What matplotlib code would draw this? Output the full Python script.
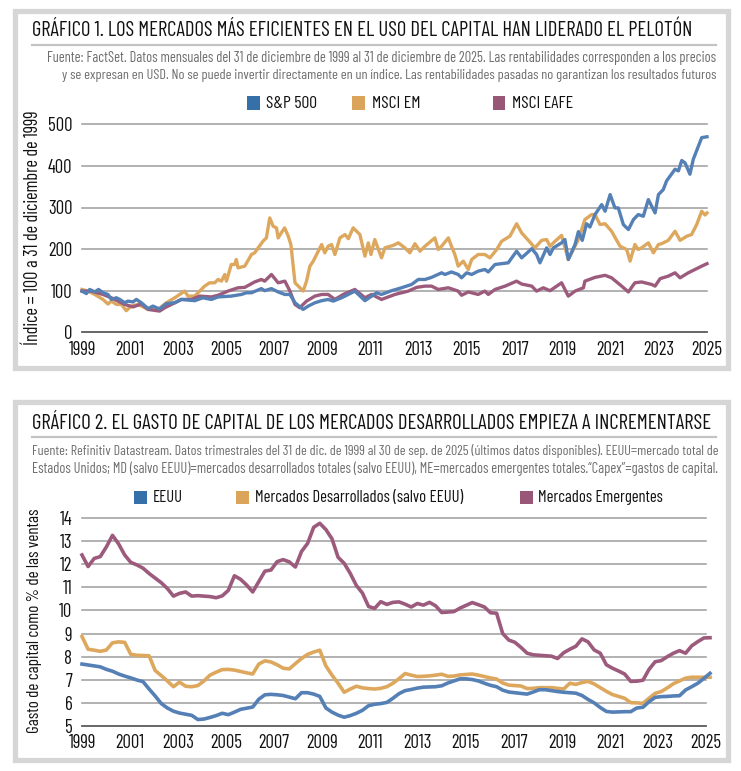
import matplotlib
matplotlib.use("Agg")
import matplotlib.pyplot as plt
from matplotlib.patches import Rectangle
from matplotlib import font_manager
import numpy as np

# ---------------- DATA: chart 1 (index, 31 Dec 1999 = 100) ----------------
dates_sp = [1999.00, 1999.18, 1999.32, 1999.53, 1999.69, 1999.87, 2000.08, 2000.22, 2000.43, 2000.57,
            2000.78, 2000.91, 2001.12, 2001.26, 2001.47, 2001.75, 2001.95, 2002.23, 2002.51, 2002.86,
            2003.13, 2003.69, 2004.03, 2004.38, 2004.66, 2005.21, 2005.63, 2005.84, 2006.05, 2006.46,
            2006.60, 2006.88, 2007.16, 2007.44, 2007.65, 2007.86, 2008.20, 2008.41, 2008.69, 2008.97,
            2009.24, 2009.45, 2009.80, 2010.35, 2010.77, 2011.05, 2011.25, 2011.46, 2011.88, 2012.29,
            2012.71, 2012.99, 2013.27, 2013.54, 2013.96, 2014.10, 2014.37, 2014.65, 2014.79, 2015.00,
            2015.21, 2015.48, 2015.76, 2015.90, 2016.18, 2016.73, 2017.08, 2017.29, 2017.71, 2017.91,
            2018.05, 2018.33, 2018.47, 2018.61, 2018.95, 2019.09, 2019.23, 2019.51, 2019.65, 2019.81,
            2019.99, 2020.13, 2020.34, 2020.62, 2020.76, 2020.97, 2021.17, 2021.31, 2021.52, 2021.73,
            2021.94, 2022.14, 2022.35, 2022.56, 2022.70, 2022.84, 2022.98, 2023.18, 2023.32, 2023.67,
            2023.81, 2023.95, 2024.09, 2024.29, 2024.43, 2024.78, 2025.00]
sp500 = [99, 93, 103, 97, 103, 95, 91, 79, 83, 79,
         71, 75, 73, 79, 71, 57, 63, 56, 69, 71,
         79, 76, 83, 79, 85, 87, 91, 95, 95, 105,
         100, 105, 97, 91, 91, 71, 55, 63, 71, 76,
         79, 75, 83, 99, 76, 87, 95, 91, 100, 107,
         115, 127, 127, 132, 143, 139, 145, 139, 131, 143,
         139, 147, 151, 145, 163, 167, 195, 179, 201, 187,
         167, 203, 187, 203, 215, 223, 175, 211, 242, 221,
         261, 253, 283, 307, 291, 331, 299, 299, 259, 247,
         271, 283, 279, 319, 303, 287, 331, 343, 364, 392,
         388, 413, 407, 380, 416, 468, 470]

dates_em = [1999.00, 1999.25, 1999.53, 1999.87, 2000.08, 2000.22, 2000.43, 2000.64, 2000.84, 2001.05,
            2001.33, 2001.75, 2002.16, 2002.51, 2002.86, 2003.27, 2003.41, 2003.69, 2004.10, 2004.31,
            2004.52, 2004.66, 2004.80, 2004.94, 2005.01, 2005.21, 2005.35, 2005.42, 2005.49, 2005.77,
            2006.05, 2006.18, 2006.53, 2006.67, 2006.81, 2006.95, 2007.09, 2007.16, 2007.29, 2007.43,
            2007.58, 2007.69, 2007.86, 2008.00, 2008.20, 2008.34, 2008.48, 2008.62, 2008.76, 2008.97,
            2009.10, 2009.24, 2009.38, 2009.52, 2009.73, 2009.94, 2010.08, 2010.28, 2010.56, 2010.77,
            2010.91, 2011.02, 2011.18, 2011.46, 2011.60, 2011.95, 2012.16, 2012.43, 2012.64, 2012.85,
            2013.06, 2013.27, 2013.68, 2013.82, 2013.96, 2014.24, 2014.37, 2014.51, 2014.65, 2014.86,
            2015.07, 2015.21, 2015.48, 2015.76, 2015.97, 2016.25, 2016.46, 2016.80, 2017.08, 2017.29,
            2017.57, 2017.84, 2018.12, 2018.33, 2018.47, 2018.68, 2018.95, 2019.23, 2019.44, 2019.65,
            2019.92, 2020.20, 2020.34, 2020.55, 2020.76, 2021.03, 2021.38, 2021.66, 2021.80, 2022.00,
            2022.14, 2022.28, 2022.56, 2022.77, 2022.98, 2023.11, 2023.39, 2023.67, 2023.88, 2024.16,
            2024.36, 2024.57, 2024.78, 2024.92, 2025.00]
msci_em = [103, 99, 91, 79, 68, 75, 67, 67, 52, 63,
           67, 55, 55, 71, 83, 99, 87, 87, 111, 119,
           119, 127, 123, 139, 123, 163, 163, 175, 155, 159,
           187, 191, 219, 227, 275, 255, 251, 227, 239, 251,
           231, 211, 119, 111, 99, 123, 159, 171, 187, 211,
           191, 207, 211, 187, 227, 235, 225, 251, 235, 183,
           215, 187, 223, 179, 203, 209, 215, 203, 191, 213,
           195, 207, 227, 199, 207, 227, 207, 187, 159, 171,
           151, 175, 187, 187, 179, 199, 219, 231, 261, 239,
           221, 203, 221, 223, 207, 219, 233, 175, 199, 223,
           271, 283, 283, 259, 261, 243, 207, 199, 171, 211,
           199, 203, 215, 191, 211, 213, 221, 243, 221, 231,
           235, 259, 291, 282, 287]

dates_eafe = [1999.00, 1999.39, 1999.87, 2000.22, 2000.78, 2001.12, 2001.47, 2001.75, 2002.23, 2002.44,
              2002.86, 2003.13, 2003.55, 2003.90, 2004.38, 2004.66, 2005.07, 2005.49, 2005.77, 2006.18,
              2006.46, 2006.60, 2006.88, 2007.16, 2007.44, 2007.65, 2007.86, 2008.06, 2008.34, 2008.69,
              2008.97, 2009.24, 2009.52, 2009.87, 2010.35, 2010.77, 2011.05, 2011.46, 2012.02, 2012.57,
              2012.92, 2013.27, 2013.54, 2013.82, 2014.24, 2014.65, 2014.79, 2015.07, 2015.48, 2015.76,
              2015.90, 2016.18, 2016.60, 2017.08, 2017.29, 2017.71, 2017.91, 2018.19, 2018.47, 2018.95,
              2019.23, 2019.51, 2019.86, 2019.92, 2020.34, 2020.76, 2021.03, 2021.45, 2021.73, 2022.00,
              2022.28, 2022.70, 2022.84, 2023.05, 2023.39, 2023.67, 2023.88, 2024.22, 2024.50, 2024.78,
              2025.00]
msci_eafe = [99, 99, 91, 83, 67, 61, 68, 55, 51, 59,
             71, 79, 79, 87, 85, 89, 99, 107, 108, 121,
             127, 123, 139, 119, 123, 99, 67, 59, 75, 87,
             91, 91, 79, 91, 103, 83, 91, 79, 91, 99,
             108, 111, 111, 103, 107, 99, 89, 97, 91, 99,
             91, 103, 111, 123, 116, 111, 99, 107, 100, 119,
             87, 99, 107, 123, 132, 137, 131, 111, 97, 119,
             121, 115, 111, 129, 135, 143, 131, 143, 151, 159,
             165]

years_ticks = list(range(1999, 2026, 2))
idx_ticks = [0, 100, 200, 300, 400, 500]

# ---------------- DATA: chart 2 (capex % of sales, quarterly Dec 1999 - Sep 2025) ----------------
capex_us = [7.68, 7.64, 7.60, 7.56, 7.45, 7.37, 7.25, 7.16, 7.08, 6.99,
            6.92, 6.60, 6.30, 5.97, 5.78, 5.64, 5.56, 5.51, 5.46, 5.28,
            5.30, 5.37, 5.45, 5.55, 5.49, 5.60, 5.72, 5.77, 5.82, 6.16,
            6.35, 6.37, 6.35, 6.32, 6.25, 6.18, 6.44, 6.44, 6.38, 6.28,
            5.78, 5.60, 5.47, 5.38, 5.45, 5.55, 5.68, 5.88, 5.94, 5.97,
            6.02, 6.20, 6.40, 6.53, 6.58, 6.64, 6.68, 6.69, 6.70, 6.74,
            6.86, 6.95, 7.04, 7.04, 7.01, 6.95, 6.85, 6.76, 6.70, 6.55,
            6.47, 6.44, 6.41, 6.38, 6.47, 6.57, 6.57, 6.53, 6.49, 6.46,
            6.44, 6.42, 6.32, 6.15, 6.00, 5.80, 5.63, 5.60, 5.61, 5.62,
            5.62, 5.78, 5.81, 6.05, 6.24, 6.27, 6.28, 6.30, 6.31, 6.56,
            6.70, 6.85, 7.06, 7.28]
capex_dm = [8.87, 8.32, 8.28, 8.23, 8.29, 8.60, 8.64, 8.62, 8.10, 8.06,
            8.05, 8.04, 7.40, 7.18, 6.95, 6.70, 6.90, 6.72, 6.70, 6.75,
            6.95, 7.20, 7.33, 7.44, 7.45, 7.42, 7.36, 7.30, 7.25, 7.68,
            7.82, 7.77, 7.65, 7.50, 7.47, 7.70, 7.92, 8.10, 8.20, 8.28,
            7.60, 7.20, 6.85, 6.46, 6.60, 6.72, 6.65, 6.62, 6.60, 6.63,
            6.70, 6.85, 7.05, 7.27, 7.20, 7.14, 7.15, 7.17, 7.20, 7.24,
            7.15, 7.16, 7.21, 7.23, 7.25, 7.20, 7.14, 7.08, 7.03, 6.86,
            6.77, 6.75, 6.73, 6.62, 6.63, 6.66, 6.66, 6.66, 6.63, 6.60,
            6.85, 6.80, 6.88, 6.93, 6.82, 6.66, 6.50, 6.36, 6.28, 6.20,
            6.01, 6.00, 5.98, 6.20, 6.41, 6.49, 6.65, 6.83, 6.95, 7.07,
            7.11, 7.11, 7.11, 7.11]
capex_em = [12.40, 11.90, 12.25, 12.33, 12.75, 13.25, 12.88, 12.40, 12.08, 11.97,
            11.83, 11.60, 11.40, 11.20, 10.95, 10.62, 10.74, 10.80, 10.62, 10.64,
            10.62, 10.60, 10.55, 10.63, 10.87, 11.50, 11.35, 11.10, 10.80, 11.25,
            11.70, 11.75, 12.11, 12.20, 12.10, 11.88, 12.55, 12.90, 13.60, 13.77,
            13.50, 13.10, 12.30, 12.04, 11.60, 11.08, 10.75, 10.17, 10.09, 10.38,
            10.26, 10.35, 10.37, 10.27, 10.15, 10.30, 10.23, 10.35, 10.20, 9.91,
            9.93, 9.95, 10.10, 10.22, 10.34, 10.25, 10.15, 9.90, 9.88, 9.00,
            8.72, 8.62, 8.40, 8.15, 8.08, 8.06, 8.04, 8.02, 7.92, 8.17,
            8.32, 8.45, 8.77, 8.64, 8.29, 8.15, 7.65, 7.50, 7.38, 7.25,
            6.93, 6.94, 6.98, 7.45, 7.78, 7.83, 8.00, 8.15, 8.26, 8.15,
            8.47, 8.65, 8.81, 8.82]
capex_ticks = list(range(5, 15))

# ---------------- STYLE ----------------
W, H = 741, 771
avail = {f.name for f in font_manager.fontManager.ttflist}
NARROW = 'Liberation Sans'
for cand in ['Barlow Condensed', 'Sofia Sans Condensed', 'Roboto Condensed', 'Archivo Narrow',
             'PT Sans Narrow', 'Liberation Sans Narrow']:
    if cand in avail:
        NARROW = cand
        break
plt.rcParams['font.family'] = [NARROW, 'DejaVu Sans']

C_BLUE, C_GOLD, C_PURP = '#5580b6', '#dda85e', '#9c5b7c'
C_BLUE_SQ, C_GOLD_SQ, C_PURP_SQ = '#3570a8', '#dba45b', '#985777'
GRID = '#9c9c9c'
BASE = '#5a5a5a'
SRC = '#6e6e6e'
INK = '#111111'
TICK_SIZE = 13.5

fig = plt.figure(figsize=(W / 100, H / 100), dpi=100)
fig.patch.set_facecolor('white')

fit_jobs = []   # (text artist, target extent in px, 'w' or 'h')


def fx(x):
    return x / W


def fy(y):
    return 1 - y / H


def axes_px(x0, x1, ytop, ybot):
    return fig.add_axes([fx(x0), fy(ybot), (x1 - x0) / W, (ybot - ytop) / H])


# panel borders
for (x0, y0, x1, y1) in [(14.5, 11, 728, 368), (14.5, 402, 728, 760)]:
    fig.patches.append(Rectangle((fx(x0), fy(y1)), (x1 - x0) / W, (y1 - y0) / H,
                                 transform=fig.transFigure, fill=False,
                                 edgecolor='#d6d6d6', linewidth=3.8))


def header(title, title_w, ty, sep_y, src_lines, src_ws, src_ys, src_ha, src_x):
    t = fig.text(fx(32), fy(ty), title, fontsize=13.5, color=INK, va='center', ha='left')
    fit_jobs.append((t, title_w, 'w'))
    fig.add_artist(plt.Line2D([fx(32), fx(716)], [fy(sep_y), fy(sep_y)],
                              transform=fig.transFigure, color='#c4c4c4', linewidth=1.6))
    for line, w, yy in zip(src_lines, src_ws, src_ys):
        s = fig.text(fx(src_x), fy(yy), line, fontsize=9.2, color=SRC, va='center', ha=src_ha)
        fit_jobs.append((s, w, 'w'))


def legend(items, ly):
    texts = []
    for (sx, tx, col, lab) in items:
        fig.patches.append(Rectangle((fx(sx), fy(ly + 6.5)), 12.5 / W, 13 / H,
                                     transform=fig.transFigure, facecolor=col, edgecolor='none'))
        texts.append(fig.text(fx(tx), fy(ly), lab, fontsize=11, color=INK, va='center', ha='left'))
    return texts


# ---------------- CHART 1 ----------------
header("GRÁFICO 1. LOS MERCADOS MÁS EFICIENTES EN EL USO DEL CAPITAL HAN LIDERADO EL PELOTÓN", 661,
       30, 45,
       ["Fuente: FactSet. Datos mensuales del 31 de diciembre de 1999 al 31 de diciembre de 2025. Las rentabilidades corresponden a los precios",
        "y se expresan en USD. No se puede invertir directamente en un índice. Las rentabilidades pasadas no garantizan los resultados futuros"],
       [666, 654], [58, 76], 'right', 716)
leg1 = legend([(247, 266, C_BLUE_SQ, 'S&P 500'), (352, 372, C_GOLD_SQ, 'MSCI EM'),
               (493, 512, C_PURP_SQ, 'MSCI EAFE')], 103)

ax1 = axes_px(82, 707, 124.3, 332.3)
ax1.set_xlim(1999, 2025)
ax1.set_ylim(0, 500)
for v in idx_ticks[1:]:
    ax1.axhline(v, color=GRID, linewidth=1.1, clip_on=False, zorder=1)
ax1.axhline(0, color=BASE, linewidth=1.3, clip_on=False, zorder=1)
ax1.plot(dates_em, msci_em, color=C_GOLD, linewidth=2.4, clip_on=False, zorder=3)
ax1.plot(dates_eafe, msci_eafe, color=C_PURP, linewidth=2.4, clip_on=False, zorder=4)
ax1.plot(dates_sp, sp500, color=C_BLUE, linewidth=2.4, clip_on=False, zorder=5)
ax1.set_xticks(years_ticks)
ax1.set_xticklabels([str(y) for y in years_ticks])
ax1.set_yticks(idx_ticks)
ax1.tick_params(axis='x', pad=6.5)
ax1.tick_params(axis='y', pad=7.0)
ylab1 = fig.text(fx(33), fy(228), "Índice = 100 a 31 de diciembre de 1999", rotation=90,
                 fontsize=12.5, color=INK, va='center', ha='center')
fit_jobs.append((ylab1, 235, 'h'))

# ---------------- CHART 2 ----------------
header("GRÁFICO 2. EL GASTO DE CAPITAL DE LOS MERCADOS DESARROLLADOS EMPIEZA A INCREMENTARSE", 680,
       423, 437,
       ["Fuente: Refinitiv Datastream. Datos trimestrales del 31 de dic. de 1999 al 30 de sep. de 2025 (últimos datos disponibles). EEUU=mercado total de",
        "Estados Unidos; MD (salvo EEUU)=mercados desarrollados totales (salvo EEUU), ME=mercados emergentes totales.\u201cCapex\u201d=gastos de capital."],
       [684, 684], [451, 469], 'left', 32)
leg2 = legend([(134, 153, C_BLUE_SQ, 'EEUU'), (236, 255, C_GOLD_SQ, 'Mercados Desarrollados (salvo EEUU)'),
               (520, 538, C_PURP_SQ, 'Mercados Emergentes')], 497)

ax2 = axes_px(82, 706, 518, 726)
ax2.set_xlim(1999, 2025)
ax2.set_ylim(5, 14)
q_step = (710 - 82) / 103 / 24.0  # quarter spacing on the label scale
xq = 1999 + np.arange(len(capex_us)) * q_step
for v in capex_ticks[1:]:
    ax2.axhline(v, color=GRID, linewidth=1.1, clip_on=False, zorder=1)
ax2.axhline(5, color=BASE, linewidth=1.3, clip_on=False, zorder=1)
ax2.plot(xq, capex_em, color=C_PURP, linewidth=2.6, clip_on=False, zorder=3)
ax2.plot(xq, capex_dm, color=C_GOLD, linewidth=2.6, clip_on=False, zorder=4)
ax2.plot(xq, capex_us, color=C_BLUE, linewidth=2.6, clip_on=False, zorder=5)
ax2.set_xticks(years_ticks)
ax2.set_xticklabels([str(y) for y in years_ticks])
ax2.set_yticks(capex_ticks)
ax2.tick_params(axis='x', pad=6.0)
ax2.tick_params(axis='y', pad=7.0)
ylab2 = fig.text(fx(35), fy(621), "Gasto de capital como % de las ventas", rotation=90,
                 fontsize=12.5, color=INK, va='center', ha='center')
fit_jobs.append((ylab2, 225, 'h'))

for ax in (ax1, ax2):
    for s in ax.spines.values():
        s.set_visible(False)
    ax.patch.set_alpha(0)
    ax.tick_params(length=0, labelsize=TICK_SIZE, colors=INK)

# ---- size the text so that its extent matches the reference ----
fig.canvas.draw()
r = fig.canvas.get_renderer()
for (t, target, dim) in fit_jobs:
    bb = t.get_window_extent(r)
    cur = bb.width if dim == 'w' else bb.height
    t.set_fontsize(t.get_fontsize() * target / cur)
# legends: one common size per legend, from the reference width of one label
for texts, i, target in [(leg1, 2, 61), (leg2, 1, 207)]:
    bb = texts[i].get_window_extent(r)
    size = texts[i].get_fontsize() * target / bb.width
    for t in texts:
        t.set_fontsize(size)

fig.savefig('out.png', dpi=100)
